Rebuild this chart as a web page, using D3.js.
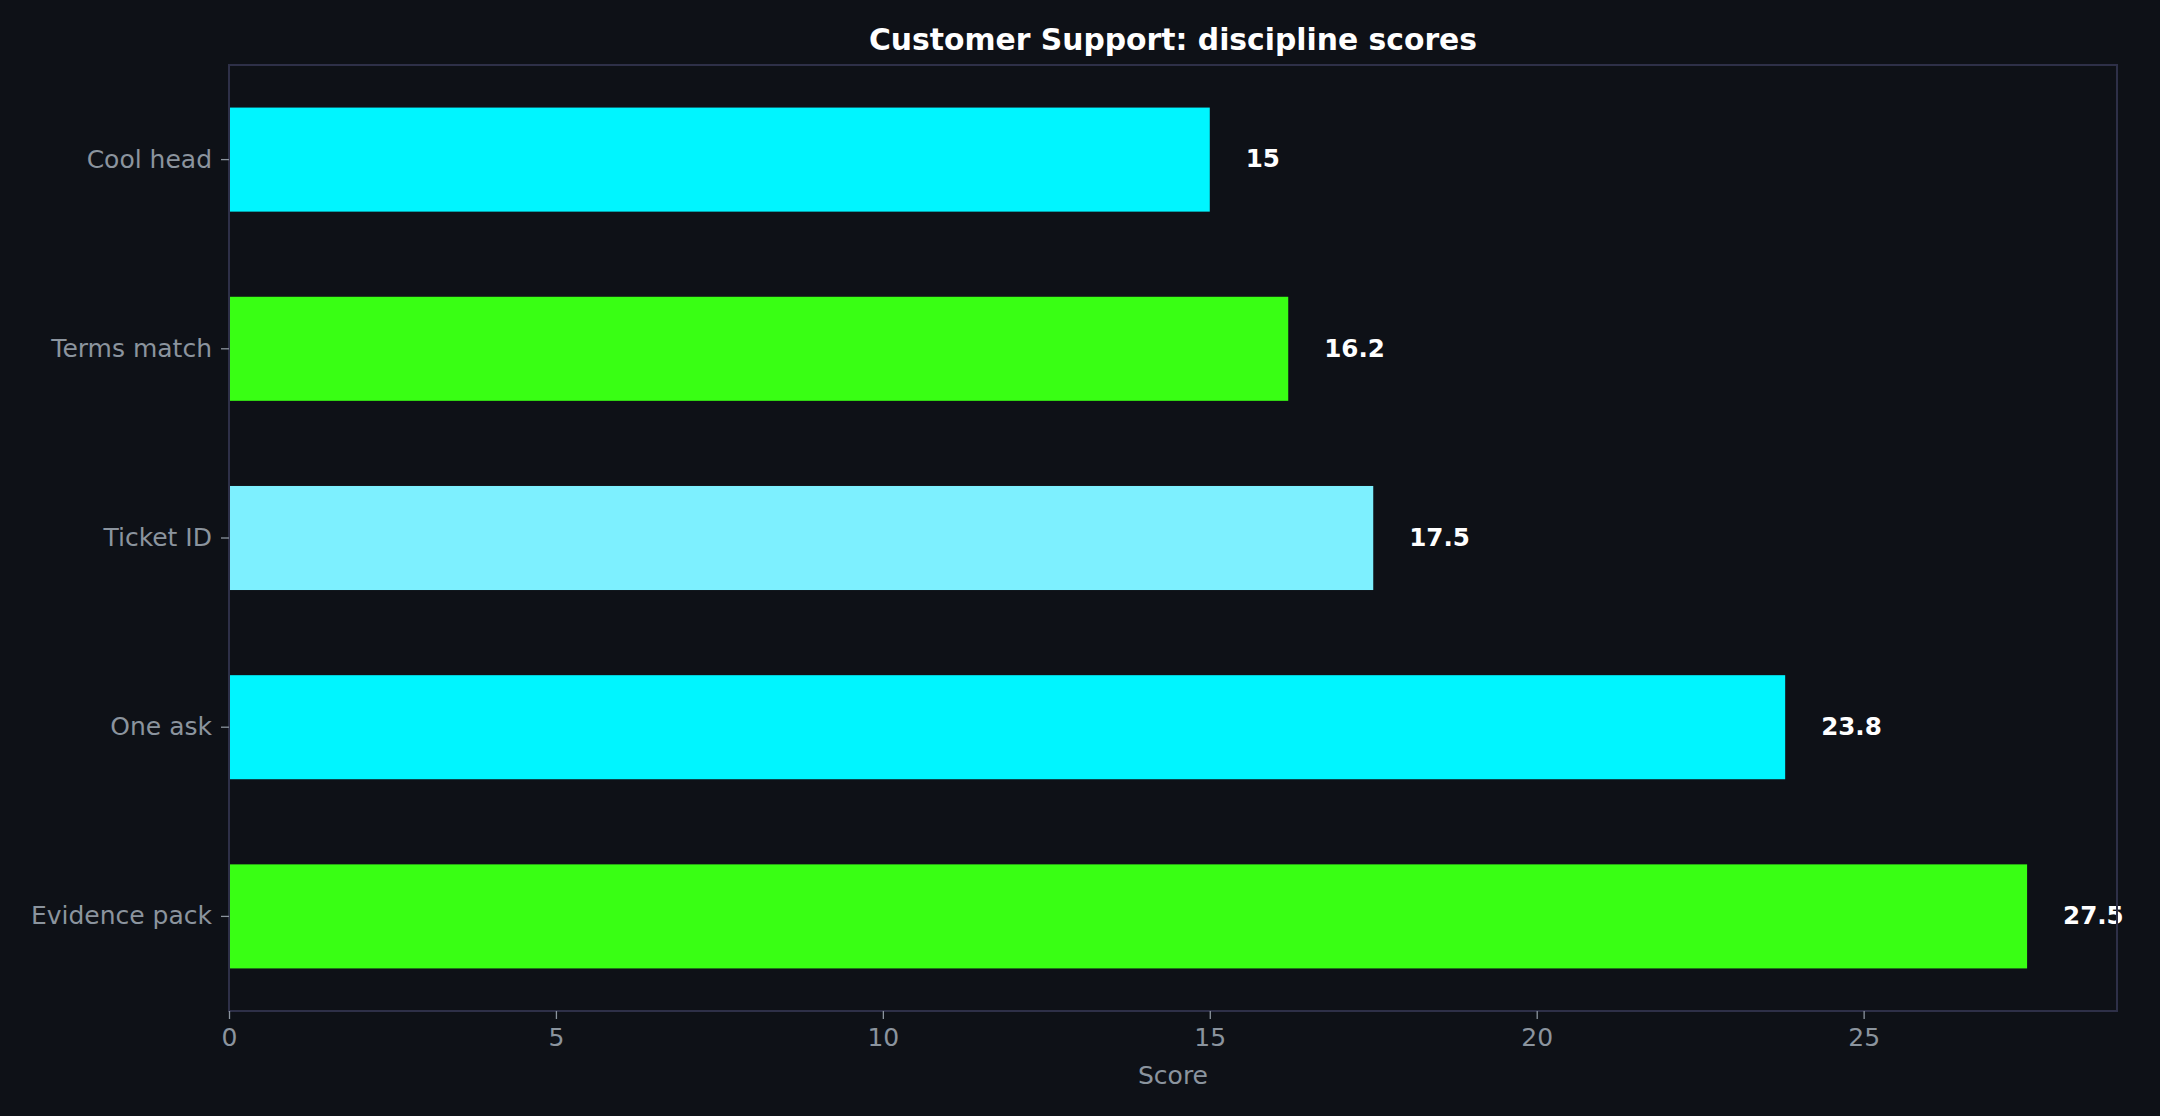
<!DOCTYPE html>
<html>
<head>
<meta charset="utf-8">
<script src="https://cdn.jsdelivr.net/npm/d3@7"></script>
<style>
  html, body { margin: 0; padding: 0; background: #0e1117; }
  svg { display: block; font-family: "DejaVu Sans", sans-serif; }
</style>
</head>
<body>
<script>
// chart data
var categories = ["Cool head", "Terms match", "Ticket ID", "One ask", "Evidence pack"];
var scores = [15, 16.2, 17.5, 23.8, 27.5];
var barColors = ["#00f5ff", "#39ff14", "#7df0ff", "#00f5ff", "#39ff14"];
var xTicks = [0, 5, 10, 15, 20, 25];

var W = 2160, H = 1116;
var margin = {top: 65, right: 43, bottom: 105, left: 229};
var width = W - margin.left - margin.right,
    height = H - margin.top - margin.bottom;

var data = categories.map(function(c, i) {
    return {name: c, value: scores[i], color: barColors[i]};
});
var maxVal = d3.max(scores);

// set the ranges
var x = d3.scaleLinear().domain([0, maxVal * 1.05]).range([0, width]);
var y = d3.scaleBand().domain(categories).range([0, height])
    .paddingInner(0.45).paddingOuter(0.225);

var svg = d3.select("body").append("svg")
    .attr("width", W)
    .attr("height", H);

svg.append("rect").attr("width", W).attr("height", H).attr("fill", "#0e1117");

var g = svg.append("g")
    .attr("transform", "translate(" + margin.left + "," + margin.top + ")");

// bars
g.selectAll(".bar")
    .data(data)
    .enter().append("rect")
    .attr("class", "bar")
    .attr("x", x(0))
    .attr("y", function(d) { return y(d.name); })
    .attr("width", function(d) { return x(d.value) - x(0); })
    .attr("height", y.bandwidth())
    .attr("fill", function(d) { return d.color; });

// value labels
g.selectAll(".val")
    .data(data)
    .enter().append("text")
    .attr("class", "val")
    .attr("x", function(d) { return x(d.value + maxVal * 0.02); })
    .attr("y", function(d) { return y(d.name) + y.bandwidth() / 2; })
    .attr("dy", "0.32em")
    .attr("fill", "#ffffff")
    .attr("font-weight", "bold")
    .attr("font-size", "24.6px")
    .text(function(d) { return d.value; });

// frame
g.append("rect")
    .attr("width", width)
    .attr("height", height)
    .attr("fill", "none")
    .attr("stroke", "#2e3048")
    .attr("stroke-width", 2);

// x axis
var xAxis = g.append("g")
    .attr("transform", "translate(0," + height + ")")
    .call(d3.axisBottom(x).tickValues(xTicks).tickSize(8).tickPadding(9).tickFormat(d3.format("d")));
xAxis.select(".domain").remove();
xAxis.selectAll("line").attr("stroke", "#8b949e").attr("stroke-width", 1.3);
xAxis.selectAll("text").attr("fill", "#8b949e").attr("font-size", "25px")
    .attr("font-family", "DejaVu Sans");

// y axis
var yAxis = g.append("g")
    .call(d3.axisLeft(y).tickSize(8).tickPadding(9));
yAxis.select(".domain").remove();
yAxis.selectAll("line").attr("stroke", "#8b949e").attr("stroke-width", 1.3);
yAxis.selectAll("text").attr("fill", "#8b949e").attr("font-size", "25px")
    .attr("font-family", "DejaVu Sans");

// axis label
g.append("text")
    .attr("x", width / 2)
    .attr("y", height + 73)
    .attr("text-anchor", "middle")
    .attr("fill", "#8b949e")
    .attr("font-size", "25px")
    .text("Score");

// title
svg.append("text")
    .attr("x", margin.left + width / 2)
    .attr("y", 50)
    .attr("text-anchor", "middle")
    .attr("fill", "#ffffff")
    .attr("font-weight", "bold")
    .attr("font-size", "29.8px")
    .text("Customer Support: discipline scores");
</script>
</body>
</html>
